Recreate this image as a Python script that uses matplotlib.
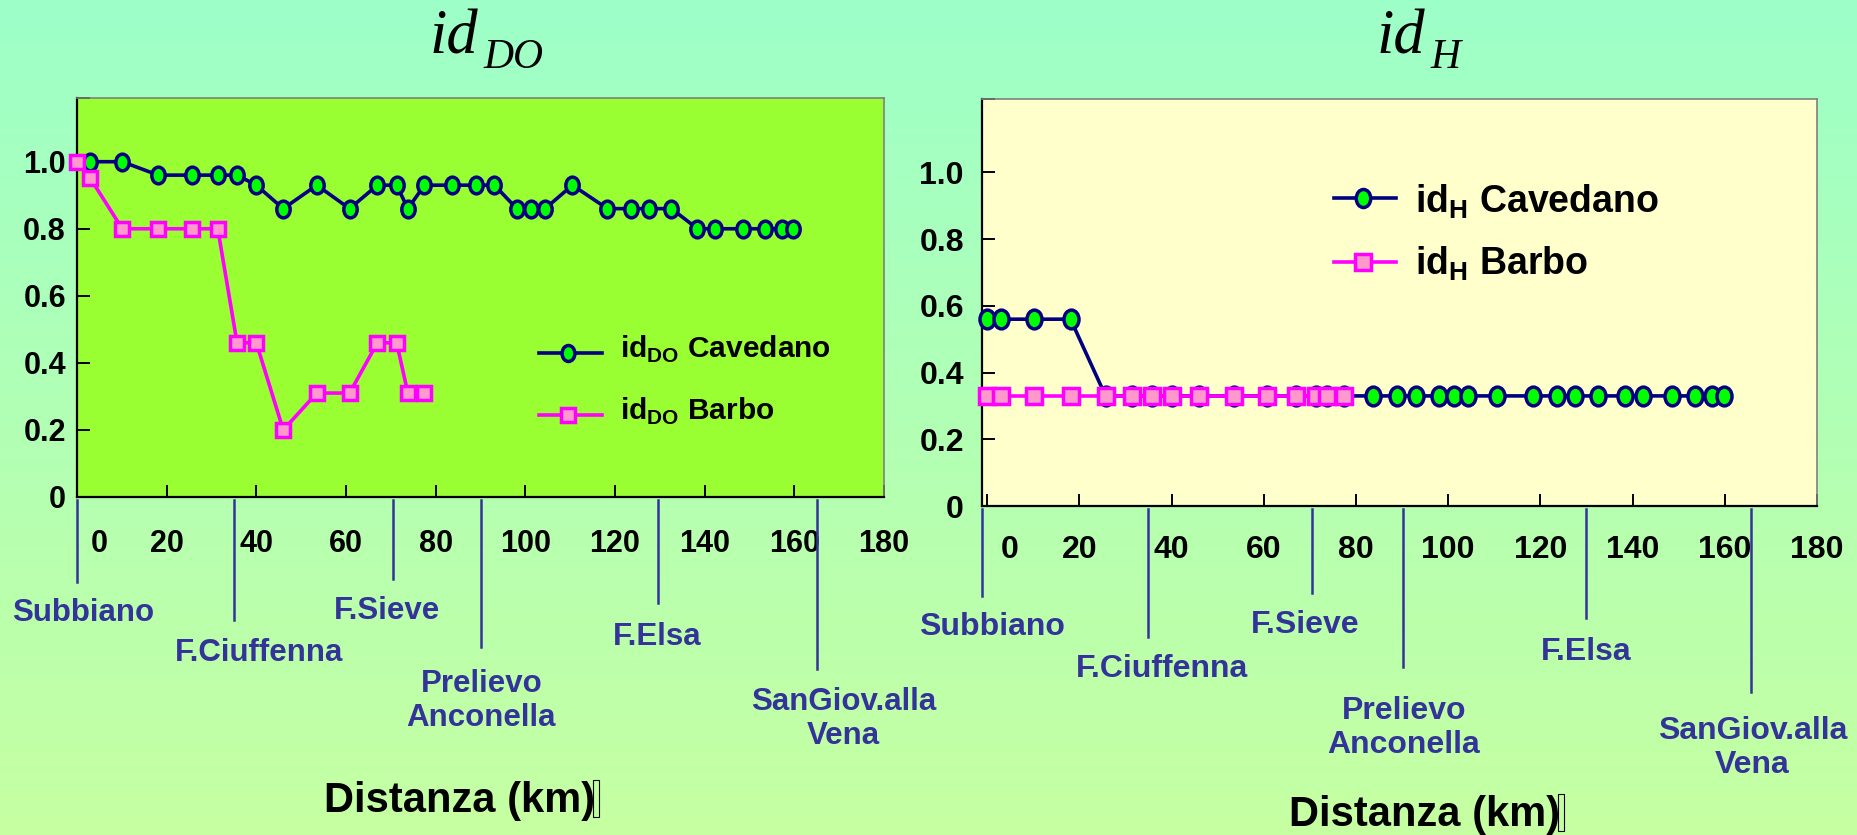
import matplotlib
matplotlib.use("Agg")
import matplotlib.pyplot as plt
import numpy as np
from matplotlib.path import Path
from matplotlib.transforms import Affine2D
from matplotlib.lines import Line2D
from matplotlib.patches import Rectangle
from matplotlib.colors import LinearSegmentedColormap

plt.rcParams["font.family"] = ["Liberation Sans", "DejaVu Sans"]
plt.rcParams["font.weight"] = "bold"
plt.rcParams["mathtext.fontset"] = "custom"
plt.rcParams["mathtext.rm"] = "Liberation Sans:bold"
plt.rcParams["mathtext.bf"] = "Liberation Sans:bold"

# distanza delle stazioni lungo l'Arno (km)
station_km = [0, 3, 10.1, 18.1, 25.7, 31.4, 35.7, 40, 46, 53.5, 60.8, 67, 71.3, 73.8,
              77.5, 83.7, 89, 93.1, 98.1, 101.2, 104.4, 110.5, 118.3, 123.6, 127.5,
              132.6, 138.4, 142.3, 148.6, 153.5, 157.2, 159.8]

# id_DO: Cavedano dalla stazione 1, Barbo fino alla stazione 14
ido_cavedano = [1.0, 1.0, 0.96, 0.96, 0.96, 0.96, 0.93, 0.86, 0.93, 0.86, 0.93, 0.93,
                0.86, 0.93, 0.93, 0.93, 0.93, 0.86, 0.86, 0.86, 0.93, 0.86, 0.86, 0.86,
                0.86, 0.80, 0.80, 0.80, 0.80, 0.80, 0.80]
ido_barbo = [1.0, 0.95, 0.80, 0.80, 0.80, 0.80, 0.46, 0.46, 0.20, 0.31, 0.31, 0.46,
             0.46, 0.31, 0.31]

# id_H
idh_cavedano = [0.56, 0.56, 0.56, 0.56, 0.33, 0.33, 0.33, 0.33, 0.33, 0.33, 0.33, 0.33,
                0.33, 0.33, 0.33, 0.33, 0.33, 0.33, 0.33, 0.33, 0.33, 0.33, 0.33, 0.33,
                0.33, 0.33, 0.33, 0.33, 0.33, 0.33, 0.33, 0.33]
idh_barbo = [0.33, 0.33, 0.33, 0.33, 0.33, 0.33, 0.33, 0.33, 0.33, 0.33, 0.33, 0.33,
             0.33, 0.33, 0.33]

place_names = ["Subbiano", "F.Ciuffenna", "F.Sieve", "Prelievo\nAnconella", "F.Elsa",
               "SanGiov.alla\nVena"]
place_km = [0, 35, 70.5, 90.2, 129.5, 165]

x_ticks = [0, 20, 40, 60, 80, 100, 120, 140, 160, 180]
y_ticks = [0, 0.2, 0.4, 0.6, 0.8, 1.0]
y_labels = ["0", "0.2", "0.4", "0.6", "0.8", "1.0"]

W, H = 1857, 835
fig = plt.figure(figsize=(W / 100, H / 100), dpi=100)

# sfondo sfumato
bg = fig.add_axes([0, 0, 1, 1], zorder=-10)
grad = np.linspace(0, 1, 256).reshape(-1, 1)
bg.imshow(grad, aspect="auto", extent=[0, 1, 0, 1],
          cmap=LinearSegmentedColormap.from_list("bg", ["#9dffc8", "#c6ffa2"]))
bg.axis("off")

NAVY = "#000080"
MAGENTA = "#ff00ff"
PLACE_COL = "#333399"
LW = 2.6
ellipse = Path.unit_circle().transformed(Affine2D().scale(0.8, 1.0))


def px_rect(left, top, right, bottom):
    return [left / W, 1 - bottom / H, (right - left) / W, (bottom - top) / H]


def cav_style(ms):
    return dict(color=NAVY, lw=LW, marker=ellipse, ms=ms, mfc="#00ff00", mec=NAVY,
                mew=2.5)


def barbo_style(ms):
    return dict(color=MAGENTA, lw=LW, marker="s", ms=ms, mfc="#ff99cc", mec=MAGENTA,
                mew=2.5)


def setup_axes(ax, face, ytop, xleft, tick_size, xpad, ypad):
    ax.set_facecolor(face)
    ax.set_xlim(xleft, 180)
    ax.set_ylim(0, ytop)
    ax.set_yticks(y_ticks + [ytop], y_labels + [""])
    ax.set_xticks(x_ticks, [""] + [str(t) for t in x_ticks[1:]])
    ax.set_xticks([5], ["0"], minor=True)
    ax.tick_params(axis="both", which="major", direction="in", length=9, width=1.4,
                   labelsize=tick_size, color="black")
    ax.tick_params(axis="x", which="both", pad=xpad)
    ax.tick_params(axis="x", which="minor", length=0, labelsize=tick_size)
    ax.tick_params(axis="y", pad=ypad)
    for side in ("left", "bottom"):
        ax.spines[side].set_color("black")
        ax.spines[side].set_linewidth(1.6)
    for side in ("top", "right"):
        ax.spines[side].set_color("#808080")
        ax.spines[side].set_linewidth(1.2)


def draw_places(ax, ax_h_px, line_shift, line_len, label_dx, label_off, size):
    tr = ax.get_xaxis_transform()
    for name, km, sh, ll, dx, lo in zip(place_names, place_km, line_shift, line_len,
                                         label_dx, label_off):
        ax.plot([km + sh, km + sh], [-0.008, -ll / ax_h_px], transform=tr,
                color=PLACE_COL, lw=1.8, clip_on=False)
        ax.text(km + dx, -lo / ax_h_px, name, transform=tr, ha="center", va="center",
                color=PLACE_COL, fontsize=size, linespacing=1.15)


def draw_legend(ax, xs, xt, rows, size, ms_c, ms_b):
    x0, xm, x1 = xs
    for (yl, yb, kind, label) in rows:
        style = cav_style(ms_c) if kind == "c" else barbo_style(ms_b)
        ax.add_line(Line2D([x0, xm, x1], [yl, yl, yl], transform=ax.transAxes,
                           markevery=[1], clip_on=False, **style))
        ax.text(xt, yb, label, transform=ax.transAxes, fontsize=size, va="baseline",
                ha="left")


def draw_title(x_px, sub):
    t = fig.text(x_px / W, 1 - 53 / H, "id", fontsize=45, ha="left", va="baseline",
                 family="Liberation Serif", style="italic", weight="normal")
    bb = t.get_window_extent(fig.canvas.get_renderer())
    fig.text((bb.x1 + 5) / W, 1 - 68 / H, sub, fontsize=30, ha="left",
             va="baseline", family="Liberation Serif", style="italic",
             weight="normal")


# ---- pannello id_DO ----
axL = fig.add_axes(px_rect(77, 98, 884, 497))
setup_axes(axL, "#99ff33", 1.19, 0, 22, 23, 8)
axL.plot(station_km[1:], ido_cavedano, clip_on=False, zorder=3, **cav_style(12))
axL.plot(station_km[:len(ido_barbo)], ido_barbo, clip_on=False, zorder=4,
         **barbo_style(10.2))
draw_places(axL, 399, [0, 0, 0, 0, 0, 0], [85, 123, 82, 150, 106, 172],
            [1.3, 5.6, -1.3, 0, 0, 6], [116, 156, 114, 204, 140, 222], 22.5)
draw_legend(axL, ((539 - 77) / 807, (568 - 77) / 807, (602 - 77) / 807),
            (620 - 77) / 807,
            [((497 - 353) / 399, (497 - 358) / 399, "c", r"id$_{\mathrm{DO}}$ Cavedano"),
             ((497 - 415) / 399, (497 - 420) / 399, "b", r"id$_{\mathrm{DO}}$ Barbo")],
            21.5, 11.5, 10)

# ---- pannello id_H ----
axR = fig.add_axes(px_rect(982, 99, 1817, 506))
setup_axes(axR, "#ffffcc", 1.22, -1.1, 23, 21, 13)
axR.plot(station_km, idh_cavedano, clip_on=False, zorder=3, **cav_style(13.5))
axR.plot(station_km[:len(idh_barbo)], idh_barbo, clip_on=False, zorder=4,
         **barbo_style(11))
draw_places(axR, 407, [-1.1, 0, 0, 0, 0.4, 0.7], [90, 131, 87, 161, 112, 186],
            [1, 3, -1.6, 0.2, 0.4, 1], [121, 163, 119, 222, 146, 242], 23)
draw_legend(axR, ((1334 - 982) / 835, (1363 - 982) / 835, (1396 - 982) / 835),
            (1415 - 982) / 835,
            [((506 - 198) / 407, (506 - 213) / 407, "c", r"id$_{\mathrm{H}}$ Cavedano"),
             ((506 - 262) / 407, (506 - 275) / 407, "b", r"id$_{\mathrm{H}}$ Barbo")],
            27, 13, 11)

# titoli
draw_title(430, "DO")
draw_title(1377, "H")

# etichette asse x, con il riquadro del glifo mancante accanto
renderer = fig.canvas.get_renderer()
for cx, base in ((460, 812), (1425, 826)):
    t = fig.text(cx / W, 1 - base / H, "Distanza (km)", fontsize=30, ha="center",
                 va="baseline")
    bb = t.get_window_extent(renderer)
    fig.add_artist(Rectangle(((bb.x1 - 3) / W, (H - base - 5) / H), 6 / W, 37 / H,
                             transform=fig.transFigure, fill=False, lw=0.8,
                             ec="black"))

fig.savefig("out.png", dpi=100)
